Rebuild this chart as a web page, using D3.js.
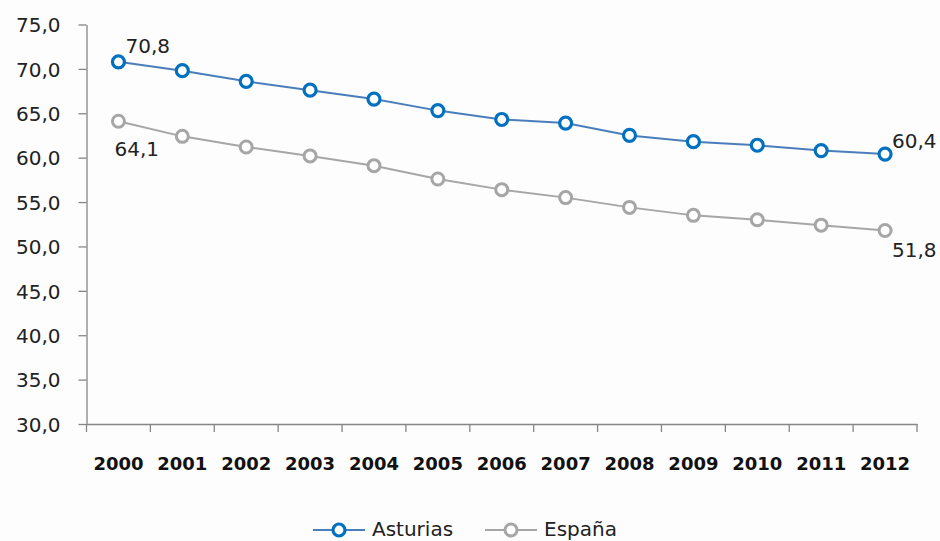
<!DOCTYPE html>
<html><head><meta charset="utf-8">
<script src="https://cdn.jsdelivr.net/npm/d3@7"></script>
<style>body{margin:0;background:#fff}svg{display:block}</style>
</head><body>
<svg id="c" width="940" height="541"></svg>
<script>
const years = ["2000","2001","2002","2003","2004","2005","2006","2007","2008","2009","2010","2011","2012"];
const asturias = [70.8,69.8,68.6,67.6,66.6,65.3,64.3,63.9,62.5,61.8,61.4,60.8,60.4];
const espana = [64.1,62.4,61.2,60.2,59.1,57.6,56.4,55.5,54.4,53.5,53.0,52.4,51.8];
const yTicks = [30,35,40,45,50,55,60,65,70,75];
const seriesNames = ["Asturias","España"];

const svg = d3.select("#c");
const font = "'DejaVu Sans', sans-serif";
svg.append("rect").attr("width",940).attr("height",541).attr("fill","#fdfdfd");

const x = d3.scaleBand().domain(years).range([86.5,917]);
const y = d3.scaleLinear().domain([30,75]).range([424,24.5]);
const fmt = v => d3.format(".1f")(v).replace(".", ",");

const yAxis = svg.append("g").attr("transform","translate(86.5,0)")
  .call(d3.axisLeft(y).tickValues(yTicks).tickFormat(fmt).tickSize(8).tickSizeOuter(0));
yAxis.select(".domain").attr("stroke","#868686").attr("stroke-width",1.3);
yAxis.selectAll(".tick line").attr("stroke","#868686").attr("stroke-width",1.3);
yAxis.selectAll("text").attr("font-family",font).attr("font-size",20).attr("fill","#222").attr("x",-26).attr("dy","0.36em");

const xAxis = svg.append("g").attr("transform","translate(0,424)")
  .call(d3.axisBottom(x).tickSize(0).tickSizeOuter(0));
xAxis.select(".domain").attr("stroke","#868686").attr("stroke-width",1.3);
xAxis.selectAll("text").attr("font-family",font).attr("font-size",18).attr("font-weight","bold").attr("fill","#111").attr("y",33);
// boundary tick marks
svg.append("g").selectAll("line").data(years.concat(["end"])).join("line")
  .attr("x1",(d,i)=> i<years.length ? x(d) : x.range()[1])
  .attr("x2",(d,i)=> i<years.length ? x(d) : x.range()[1])
  .attr("y1",424).attr("y2",432).attr("stroke","#868686").attr("stroke-width",1.3);

const cx = d => x(d) + x.bandwidth()/2;
const series = [
  {name:seriesNames[0], vals:asturias, line:"#4a7ebb", mark:"#0070c0", lw:2, mw:3.2},
  {name:seriesNames[1], vals:espana, line:"#a6a6a6", mark:"#a6a6a6", lw:2, mw:3}
];
series.forEach(s=>{
  const line = d3.line().x((d,i)=>cx(years[i])).y(d=>y(d));
  svg.append("path").attr("d",line(s.vals)).attr("fill","none").attr("stroke",s.line).attr("stroke-width",s.lw);
  svg.append("g").selectAll("circle").data(s.vals).join("circle")
    .attr("cx",(d,i)=>cx(years[i])).attr("cy",d=>y(d)).attr("r",6)
    .attr("fill","#fff").attr("stroke",s.mark).attr("stroke-width",s.mw);
});

// data labels
const labels = [
  {v:asturias[0], i:0, dx:7, dy:-8.5},
  {v:espana[0], i:0, dx:-4, dy:35},
  {v:asturias[12], i:12, dx:7, dy:-6},
  {v:espana[12], i:12, dx:7, dy:27}
];
svg.append("g").selectAll("text").data(labels).join("text")
  .attr("x",d=>cx(years[d.i])+d.dx).attr("y",d=>y(d.v)+d.dy)
  .attr("font-family",font).attr("font-size",20).attr("fill","#222").text(d=>fmt(d.v));

// legend
const leg = [{name:seriesNames[0], x:313, c:"#4a7ebb", m:"#0070c0", mw:3.2},{name:seriesNames[1], x:485, c:"#a6a6a6", m:"#a6a6a6", mw:3}];
const lg = svg.append("g");
leg.forEach(l=>{
  lg.append("line").attr("x1",l.x).attr("x2",l.x+52).attr("y1",530).attr("y2",530).attr("stroke",l.c).attr("stroke-width",2);
  lg.append("circle").attr("cx",l.x+26).attr("cy",530).attr("r",6).attr("fill","#fff").attr("stroke",l.m).attr("stroke-width",l.mw);
  lg.append("text").attr("x",l.x+59).attr("y",536).attr("font-family",font).attr("font-size",20).attr("fill","#222").text(l.name);
});
</script>
</body></html>
